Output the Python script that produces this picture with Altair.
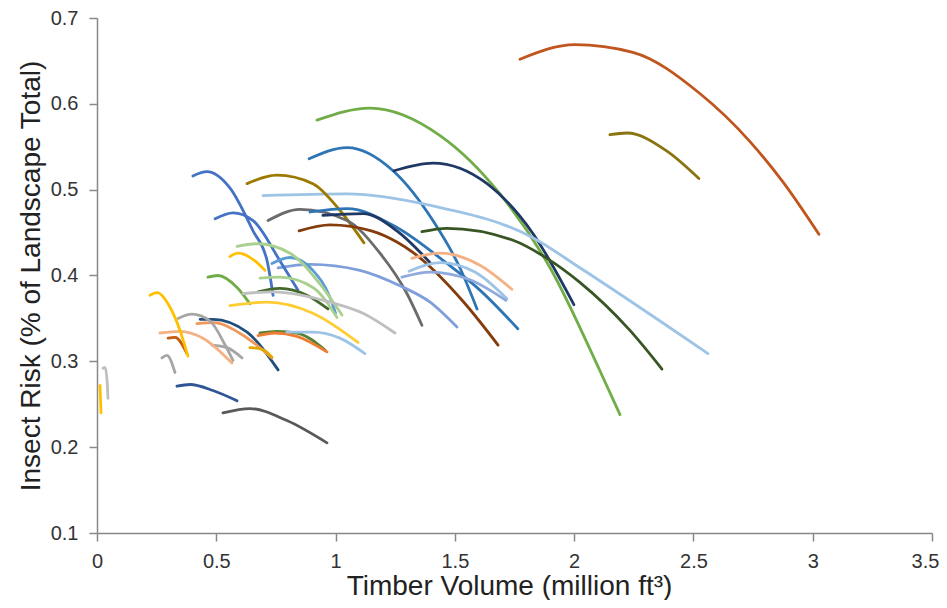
import altair as alt
import pandas as pd

# ---- data (x: million ft3, y: share of landscape) ----
series_colors = [
    "#C0561E", "#8B7310", "#70AD47", "#2E75B6", "#203864", "#9DC3E6", "#375623",
    "#9C7A00", "#6B6B6B", "#2E75B6", "#1F3864", "#843C0C", "#F4B183", "#9DC3E6",
    "#8FAADC", "#7F9FDB", "#4472C4", "#4472C4", "#5B9BD5", "#A9D18E", "#70AD47",
    "#A9D18E", "#43682B", "#BFBFBF", "#FFCD33", "#FFC000", "#548235", "#ED7D31",
    "#9DC3E6", "#1F4E79", "#F1975A", "#E0A800", "#A6A6A6", "#A6A6A6", "#F4B183",
    "#C55A11", "#FFC000", "#A6A6A6", "#BFBFBF", "#FFC000", "#2F5597", "#595959",
]

series_x = [
    [1.773, 2.003, 2.246, 2.527, 2.737, 2.875, 3.026],
    [2.150, 2.221, 2.389, 2.523],
    [0.922, 1.144, 1.438, 1.689, 1.899, 2.108, 2.192],
    [0.889, 1.048, 1.241, 1.408, 1.521, 1.593],
    [1.245, 1.408, 1.635, 1.827, 1.999],
    [0.696, 1.048, 1.408, 1.827, 2.024, 2.561],
    [1.362, 1.467, 1.744, 1.886, 2.024, 2.234, 2.368],
    [0.629, 0.754, 0.905, 1.018, 1.119],
    [0.717, 0.851, 1.048, 1.186, 1.299, 1.362],
    [0.893, 1.048, 1.257, 1.467, 1.605, 1.764],
    [0.947, 1.115, 1.257, 1.396],
    [0.847, 0.977, 1.150, 1.257, 1.324, 1.534, 1.681],
    [1.320, 1.438, 1.605, 1.739],
    [1.308, 1.438, 1.584, 1.718],
    [1.278, 1.396, 1.563, 1.714],
    [0.759, 0.893, 1.102, 1.270, 1.396, 1.509],
    [0.402, 0.461, 0.557, 0.654, 0.713, 0.738],
    [0.495, 0.570, 0.654, 0.767, 0.842],
    [0.733, 0.809, 0.905, 0.977, 1.000],
    [0.587, 0.671, 0.809, 0.935, 1.027],
    [0.465, 0.507, 0.587, 0.641],
    [0.683, 0.767, 0.905, 1.006],
    [0.675, 0.767, 0.880, 0.968],
    [0.612, 0.738, 0.977, 1.115, 1.249],
    [0.557, 0.713, 0.905, 1.094],
    [0.557, 0.591, 0.662, 0.704],
    [0.683, 0.754, 0.838, 0.956],
    [0.675, 0.746, 0.838, 0.964],
    [0.796, 0.905, 1.018, 1.123],
    [0.432, 0.486, 0.629, 0.759],
    [0.419, 0.486, 0.620, 0.733],
    [0.641, 0.692, 0.733],
    [0.340, 0.398, 0.474, 0.537, 0.570],
    [0.482, 0.545, 0.608],
    [0.264, 0.348, 0.444, 0.566],
    [0.298, 0.327, 0.377],
    [0.222, 0.252, 0.306, 0.348, 0.381],
    [0.272, 0.293, 0.327],
    [0.025, 0.034, 0.042, 0.046],
    [0.0126, 0.0147, 0.0168],
    [0.335, 0.390, 0.486, 0.587],
    [0.528, 0.641, 0.796, 0.964],
]

series_y = [
    [0.652, 0.669, 0.660, 0.612, 0.556, 0.509, 0.448],
    [0.564, 0.566, 0.545, 0.513],
    [0.581, 0.595, 0.563, 0.495, 0.409, 0.289, 0.238],
    [0.536, 0.549, 0.522, 0.464, 0.409, 0.361],
    [0.522, 0.531, 0.507, 0.449, 0.366],
    [0.493, 0.495, 0.481, 0.444, 0.409, 0.309],
    [0.451, 0.455, 0.441, 0.420, 0.392, 0.336, 0.291],
    [0.507, 0.517, 0.507, 0.476, 0.438],
    [0.464, 0.477, 0.464, 0.426, 0.379, 0.342],
    [0.474, 0.478, 0.456, 0.414, 0.383, 0.338],
    [0.470, 0.472, 0.452, 0.415],
    [0.452, 0.459, 0.452, 0.439, 0.427, 0.370, 0.319],
    [0.420, 0.426, 0.412, 0.384],
    [0.405, 0.415, 0.404, 0.373],
    [0.398, 0.404, 0.395, 0.371],
    [0.409, 0.413, 0.406, 0.388, 0.369, 0.340],
    [0.516, 0.521, 0.502, 0.452, 0.417, 0.377],
    [0.466, 0.473, 0.464, 0.417, 0.383],
    [0.414, 0.421, 0.406, 0.374, 0.356],
    [0.434, 0.437, 0.426, 0.390, 0.354],
    [0.398, 0.400, 0.386, 0.367],
    [0.397, 0.398, 0.386, 0.351],
    [0.381, 0.385, 0.377, 0.361],
    [0.379, 0.381, 0.369, 0.356, 0.333],
    [0.365, 0.369, 0.356, 0.322],
    [0.422, 0.426, 0.417, 0.406],
    [0.333, 0.335, 0.333, 0.313],
    [0.330, 0.333, 0.329, 0.311],
    [0.334, 0.334, 0.327, 0.309],
    [0.349, 0.349, 0.334, 0.290],
    [0.344, 0.345, 0.329, 0.304],
    [0.316, 0.314, 0.305],
    [0.350, 0.355, 0.347, 0.319, 0.301],
    [0.319, 0.316, 0.304],
    [0.333, 0.335, 0.327, 0.298],
    [0.327, 0.328, 0.309],
    [0.377, 0.380, 0.363, 0.336, 0.306],
    [0.304, 0.307, 0.287],
    [0.292, 0.293, 0.278, 0.257],
    [0.272, 0.257, 0.240],
    [0.271, 0.273, 0.266, 0.254],
    [0.240, 0.245, 0.231, 0.205],
]

x_ticks = [0, 0.5, 1, 1.5, 2, 2.5, 3, 3.5]
y_ticks = [0.1, 0.2, 0.3, 0.4, 0.5, 0.6, 0.7]

rows = []
for i, (xs, ys) in enumerate(zip(series_x, series_y)):
    for j, (xv, yv) in enumerate(zip(xs, ys)):
        rows.append({"series": f"s{i:02d}", "order": j, "x": xv, "y": yv})
df = pd.DataFrame(rows)
series_ids = [f"s{i:02d}" for i in range(len(series_x))]

FONT = "Liberation Sans"

chart = (
    alt.Chart(df)
    .mark_line(interpolate="monotone", strokeWidth=2.8, strokeCap="round", clip=True)
    .encode(
        x=alt.X(
            "x:Q",
            scale=alt.Scale(domain=[0, 3.5], nice=False, zero=False),
            axis=alt.Axis(
                values=x_ticks, format="~g", title="Timber Volume (million ft³)",
                grid=False, tickSize=8, labelPadding=10, labelFlush=False,
                labelOffset={"condition": {"test": "datum.value == 3.5", "value": -7}, "value": 0},
                titleX=412, titleY=61, titleBaseline="alphabetic",
                labelFontSize=20, titleFontSize=28, labelFont=FONT, titleFont=FONT,
                titleFontWeight="normal", labelColor="#333333", titleColor="#222222",
                domainColor="#888888", tickColor="#888888", domainWidth=1.5, tickWidth=1.5,
            ),
        ),
        y=alt.Y(
            "y:Q",
            scale=alt.Scale(domain=[0.1, 0.7], nice=False, zero=False),
            axis=alt.Axis(
                values=y_ticks, format=".1f", title="Insect Risk (% of Landscape Total)",
                grid=False, tickSize=8, labelPadding=11, titlePadding=5, labelFlush=False,
                labelFontSize=20, titleFontSize=28, labelFont=FONT, titleFont=FONT,
                titleFontWeight="normal", labelColor="#333333", titleColor="#222222",
                domainColor="#888888", tickColor="#888888", domainWidth=1.5, tickWidth=1.5,
            ),
        ),
        color=alt.Color("series:N", scale=alt.Scale(domain=series_ids, range=series_colors), legend=None),
        order=alt.Order("order:Q"),
    )
    .properties(
        width=835,
        height=515,
        autosize=alt.AutoSizeParams(type="none"),
        padding={"left": 89, "top": 10, "right": 7, "bottom": 67},
        background="white",
    )
    .configure_view(stroke=None)
)

chart.save("out.html", embed_options={"renderer": "svg", "actions": False})
